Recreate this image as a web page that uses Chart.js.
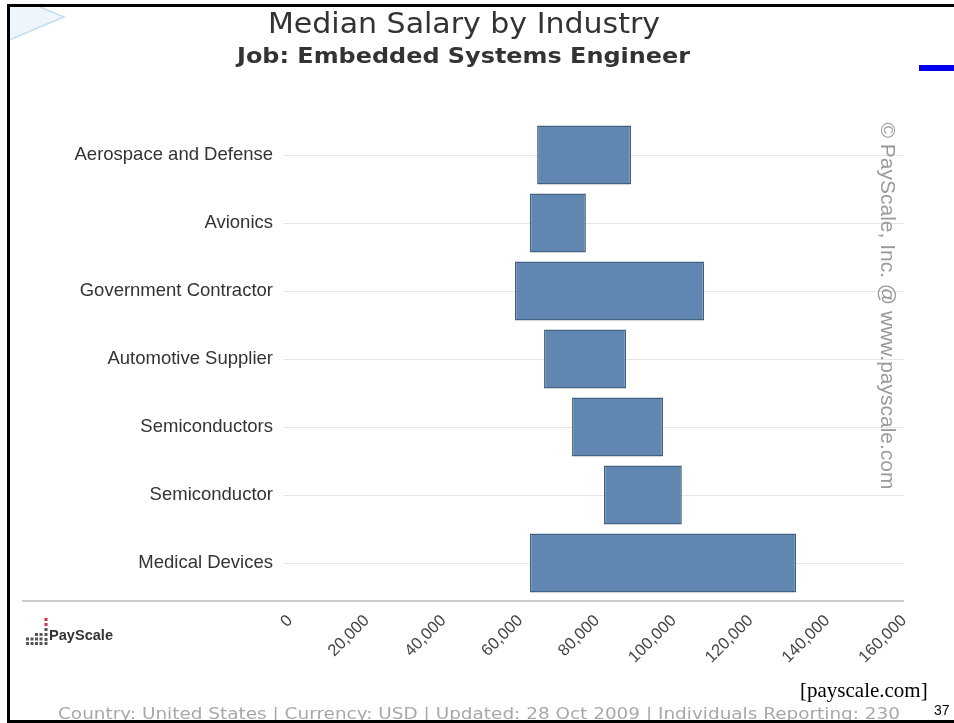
<!DOCTYPE html>
<html>
<head>
<meta charset="utf-8">
<script src="https://cdn.jsdelivr.net/npm/chart.js@4/dist/chart.umd.min.js"></script>
<style>
  html, body { margin: 0; padding: 0; background: #fff; }
  #wrap { position: relative; width: 954px; height: 723px; }
  canvas { display: block; }
</style>
</head>
<body>
<div id="wrap"><canvas id="chart" width="954" height="723"></canvas></div>
<script>
// Industries, top to bottom
const categories = [
  'Aerospace and Defense',
  'Avionics',
  'Government Contractor',
  'Automotive Supplier',
  'Semiconductors',
  'Semiconductor',
  'Medical Devices'
];
// Salary range per industry (USD): low end and high end of each bar
const lowSalary  = [64400, 62500, 58600, 66200, 73500, 81800, 62500];
const highSalary = [88900, 77100, 107900, 87600, 97200, 102100, 131900];
// Salary axis ticks
const axisTicks = [0, 20000, 40000, 60000, 80000, 100000, 120000, 140000, 160000];

const titleText = 'Median Salary by Industry';
const subtitleText = 'Job: Embedded Systems Engineer';
const footerText = 'Country: United States | Currency: USD | Updated: 28 Oct 2009 | Individuals Reporting: 230';
const watermarkText = '\u00A9 PayScale, Inc. @ www.payscale.com';
const sourceText = '[payscale.com]';
const pageNumber = '37';

// Draw text stretched horizontally so it spans a given width
function fitText(ctx, text, left, baseline, width) {
  const w = ctx.measureText(text).width;
  ctx.save();
  ctx.translate(left, baseline);
  ctx.scale(width / w, 1);
  ctx.textAlign = 'left';
  ctx.fillText(text, 0, 0);
  ctx.restore();
}

// Page decoration drawn on the same canvas
const pageDecor = {
  id: 'pageDecor',
  beforeDraw(chart) {
    const ctx = chart.ctx;
    ctx.save();
    ctx.fillStyle = '#ffffff';
    ctx.fillRect(0, 0, chart.width, chart.height);

    // pale pointer shape in the top-left corner
    ctx.beginPath();
    ctx.moveTo(9, 7);
    ctx.lineTo(40, 7);
    ctx.lineTo(64, 17);
    ctx.lineTo(9, 40);
    ctx.closePath();
    ctx.fillStyle = '#eef6fc';
    ctx.fill();
    ctx.strokeStyle = '#c3ddf0';
    ctx.lineWidth = 1.5;
    ctx.beginPath();
    ctx.moveTo(40, 7);
    ctx.lineTo(64, 17);
    ctx.lineTo(9, 40);
    ctx.stroke();

    // blue marker at the right edge
    ctx.fillStyle = '#0000ee';
    ctx.fillRect(919, 65, 35, 6);

    // axis base line running under the labels
    ctx.strokeStyle = '#cccccc';
    ctx.lineWidth = 2;
    ctx.beginPath();
    ctx.moveTo(22, 601);
    ctx.lineTo(chart.chartArea.right, 601);
    ctx.stroke();
    ctx.restore();
  },
  afterDraw(chart) {
    const ctx = chart.ctx;
    ctx.save();
    ctx.textBaseline = 'alphabetic';

    // titles
    ctx.fillStyle = '#333333';
    ctx.font = '29px "DejaVu Sans", sans-serif';
    fitText(ctx, titleText, 268, 33, 392);
    ctx.font = 'bold 21px "DejaVu Sans", sans-serif';
    fitText(ctx, subtitleText, 237, 63, 453);

    // vertical copyright watermark
    ctx.save();
    ctx.translate(887, 306);
    ctx.rotate(Math.PI / 2);
    ctx.textAlign = 'center';
    ctx.textBaseline = 'middle';
    ctx.fillStyle = '#9a9a9a';
    ctx.font = '21px "Liberation Sans", Arial, sans-serif';
    ctx.fillText(watermarkText, 0, 0);
    ctx.restore();

    // PayScale logo: dot columns and word mark
    const dotCols = [2, 2, 3, 3];
    ctx.fillStyle = '#555555';
    dotCols.forEach((n, c) => {
      for (let r = 0; r < n; r++) {
        ctx.fillRect(26 + c * 4.5, 642 - r * 4.5, 3, 3);
      }
    });
    ctx.fillStyle = '#cc3344';
    ctx.fillRect(44.5, 618, 3, 3);
    ctx.fillRect(44.5, 623, 3, 3);
    ctx.fillStyle = '#555555';
    ctx.fillRect(44.5, 628, 3, 3);
    ctx.fillRect(44.5, 633, 3, 3);
    ctx.fillRect(44.5, 638, 3, 3);
    ctx.fillRect(44.5, 642, 3, 3);
    ctx.textAlign = 'left';
    ctx.fillStyle = '#333333';
    ctx.font = 'bold 14px "Liberation Sans", Arial, sans-serif';
    fitText(ctx, 'PayScale', 49, 640, 64);

    // footer line
    ctx.fillStyle = '#a8a8a8';
    ctx.font = '15.5px "DejaVu Sans", Verdana, sans-serif';
    fitText(ctx, footerText, 58, 719, 842);

    // source note and page number
    ctx.fillStyle = '#000000';
    ctx.font = '21px "Liberation Serif", "Times New Roman", serif';
    ctx.fillText(sourceText, 800, 697);
    ctx.font = '14px "Liberation Sans", Arial, sans-serif';
    ctx.fillText(pageNumber, 934, 715);

    // frame
    ctx.fillStyle = '#000000';
    ctx.fillRect(7, 4, 947, 3);
    ctx.fillRect(7, 4, 3, 719);
    ctx.fillRect(7, 720, 947, 3);
    ctx.restore();
  }
};

new Chart(document.getElementById('chart'), {
  type: 'bar',
  data: {
    labels: categories,
    datasets: [{
      data: categories.map((c, i) => [lowSalary[i], highSalary[i]]),
      backgroundColor: '#5f87b1',
      borderColor: '#42607f',
      borderWidth: 1.5,
      borderSkipped: false,
      barPercentage: 0.87,
      categoryPercentage: 1.0
    }]
  },
  options: {
    indexAxis: 'y',
    responsive: false,
    animation: false,
    devicePixelRatio: 1,
    layout: { padding: { top: 121, right: 50, left: 0, bottom: 0 } },
    plugins: {
      legend: { display: false },
      tooltip: { enabled: false },
      title: { display: false }
    },
    scales: {
      y: {
        grid: { color: '#e6e6e6', lineWidth: 1, tickLength: 7, drawTicks: true, offset: false },
        border: { display: false },
        ticks: {
          padding: 10,
          color: '#333333',
          font: { family: '"Liberation Sans", Arial, sans-serif', size: 18.5 }
        },
        afterFit(scale) { scale.width = 290; }
      },
      x: {
        min: axisTicks[0],
        max: axisTicks[axisTicks.length - 1],
        afterBuildTicks(scale) { scale.ticks = axisTicks.map(v => ({ value: v })); },
        grid: { display: false, drawTicks: false },
        border: { display: false },
        ticks: {
          minRotation: 45,
          maxRotation: 45,
          padding: 14,
          color: '#444444',
          font: { family: '"Liberation Sans", Arial, sans-serif', size: 16.5 },
          callback: v => Number(v).toLocaleString('en-US')
        },
        afterFit(scale) { scale.height = 126; }
      }
    }
  },
  plugins: [pageDecor]
});
</script>
</body>
</html>
